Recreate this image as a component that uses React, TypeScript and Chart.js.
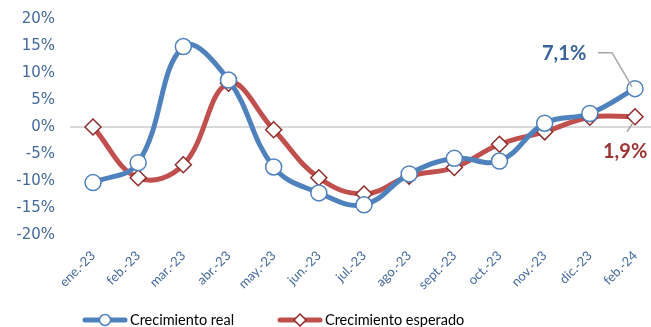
import React, { useEffect, useRef } from "react";
import { Chart, registerables } from "chart.js";

Chart.register(...registerables);

const categories = ["ene.-23", "feb.-23", "mar.-23", "abr.-23", "may.-23", "jun.-23", "jul.-23", "ago.-23", "sept.-23", "oct.-23", "nov.-23", "dic.-23", "feb.-24"];
const realGrowth = [-10.3, -6.6, 14.9, 8.7, -7.4, -12.2, -14.4, -8.7, -5.8, -6.3, 0.7, 2.5, 7.1];
const expectedGrowth = [0, -9.4, -7.0, 8.1, -0.5, -9.4, -12.4, -9.1, -7.5, -3.2, -0.9, 1.8, 1.9];
const seriesNames = ["Crecimiento real", "Crecimiento esperado"];
const lastLabels = ["7,1%", "1,9%"];

const BLUE = "#4F81BD";
const RED = "#C0504D";
const RED_DARK = "#8E2B2A";
const TICK = "#44699E";

export default function App() {
  const ref = useRef<HTMLCanvasElement | null>(null);
  useEffect(() => {
    document.body.style.margin = "0";
    const canvas = ref.current!;
    const extras = {
      id: "extras",
      beforeDatasetsDraw(chart: any) {
        const ctx = chart.ctx;
        const y0 = chart.scales.y.getPixelForValue(0);
        ctx.save();
        ctx.strokeStyle = "#D9D9D9";
        ctx.lineWidth = 2;
        ctx.beginPath();
        ctx.moveTo(70, y0);
        ctx.lineTo(chart.width, y0);
        ctx.stroke();
        ctx.restore();
      },
      afterDraw(chart: any) {
        const ctx = chart.ctx;
        const last = categories.length - 1;
        const xs = chart.scales.x;
        const ys = chart.scales.y;
        const px = xs.getPixelForValue(last);
        const pyR = ys.getPixelForValue(realGrowth[last]);
        const pyE = ys.getPixelForValue(expectedGrowth[last]);
        ctx.save();
        ctx.strokeStyle = "#A6A6A6";
        ctx.lineWidth = 1.5;
        ctx.beginPath();
        ctx.moveTo(598, pyR - 36);
        ctx.lineTo(612, pyR - 36);
        ctx.lineTo(px - 3, pyR - 2);
        ctx.stroke();
        ctx.beginPath();
        ctx.moveTo(px - 2, pyE + 6);
        ctx.lineTo(px - 8, pyE + 15);
        ctx.stroke();
        ctx.font = "bold 20px Lato";
        ctx.textBaseline = "middle";
        ctx.textAlign = "left";
        ctx.fillStyle = "#3A659B";
        ctx.fillText(lastLabels[0], 542, pyR - 35);
        ctx.fillStyle = "#9B3533";
        ctx.fillText(lastLabels[1], 603, pyE + 35);
        const ly = 320;
        const items = [
          { x: 83, color: BLUE, border: BLUE, style: "circle", text: seriesNames[0] },
          { x: 278, color: RED, border: RED_DARK, style: "diamond", text: seriesNames[1] },
        ];
        for (const it of items) {
          ctx.strokeStyle = it.color;
          ctx.lineWidth = 5;
          ctx.lineCap = "round";
          ctx.beginPath();
          ctx.moveTo(it.x + 2, ly);
          ctx.lineTo(it.x + 42, ly);
          ctx.stroke();
          ctx.fillStyle = "#fff";
          ctx.strokeStyle = it.border;
          ctx.lineWidth = 1.5;
          const cx = it.x + 22;
          ctx.beginPath();
          if (it.style === "circle") {
            ctx.arc(cx, ly, 5.5, 0, Math.PI * 2);
          } else {
            ctx.moveTo(cx, ly - 6);
            ctx.lineTo(cx + 6, ly);
            ctx.lineTo(cx, ly + 6);
            ctx.lineTo(cx - 6, ly);
            ctx.closePath();
          }
          ctx.fill();
          ctx.stroke();
          ctx.fillStyle = "#000";
          ctx.font = "14.5px Lato";
          ctx.textAlign = "left";
          ctx.fillText(it.text, it.x + 47, ly);
        }
        ctx.restore();
      },
    };
    const chart = new Chart(canvas, {
      type: "line",
      data: {
        labels: categories,
        datasets: [
          {
            label: seriesNames[0],
            data: realGrowth,
            borderColor: BLUE,
            borderWidth: 5,
            tension: 0.4,
            pointStyle: "circle",
            pointRadius: 8,
            pointBackgroundColor: "#fff",
            pointBorderColor: BLUE,
            pointBorderWidth: 1.5,
          },
          {
            label: seriesNames[1],
            data: expectedGrowth,
            borderColor: RED,
            borderWidth: 5,
            tension: 0.4,
            pointStyle: "rectRot",
            pointRadius: 8,
            pointBackgroundColor: "#fff",
            pointBorderColor: RED_DARK,
            pointBorderWidth: 1.5,
          },
        ],
      },
      options: {
        responsive: false,
        animation: false,
        layout: { padding: { top: 19, right: 16, left: 0, bottom: 0 } },
        plugins: { legend: { display: false }, tooltip: { enabled: false } },
        scales: {
          x: {
            offset: false,
            grid: { display: false, drawTicks: false },
            border: { display: false },
            ticks: {
              minRotation: 45,
              maxRotation: 45,
              padding: 13,
              color: TICK,
              font: { family: "Lato", size: 13 },
              autoSkip: false,
            },
            afterFit(scale: any) {
              scale.height = 92;
              scale.paddingLeft = 0;
              scale.paddingRight = 0;
            },
          },
          y: {
            min: -20,
            max: 20,
            grid: { display: false, drawTicks: false },
            border: { display: false },
            ticks: {
              stepSize: 5,
              padding: 38,
              color: TICK,
              font: { family: "DejaVu Sans", size: 15 },
              callback: (v: any) => v + "%",
            },
            afterFit(scale: any) {
              scale.width = 93;
              scale.paddingTop = 8;
              scale.paddingBottom = 8;
            },
          },
        },
      },
      plugins: [extras],
    });
    return () => chart.destroy();
  }, []);
  return (
    <div style={{ width: 651, height: 327 }}>
      <canvas ref={ref} width={651} height={327} />
    </div>
  );
}
